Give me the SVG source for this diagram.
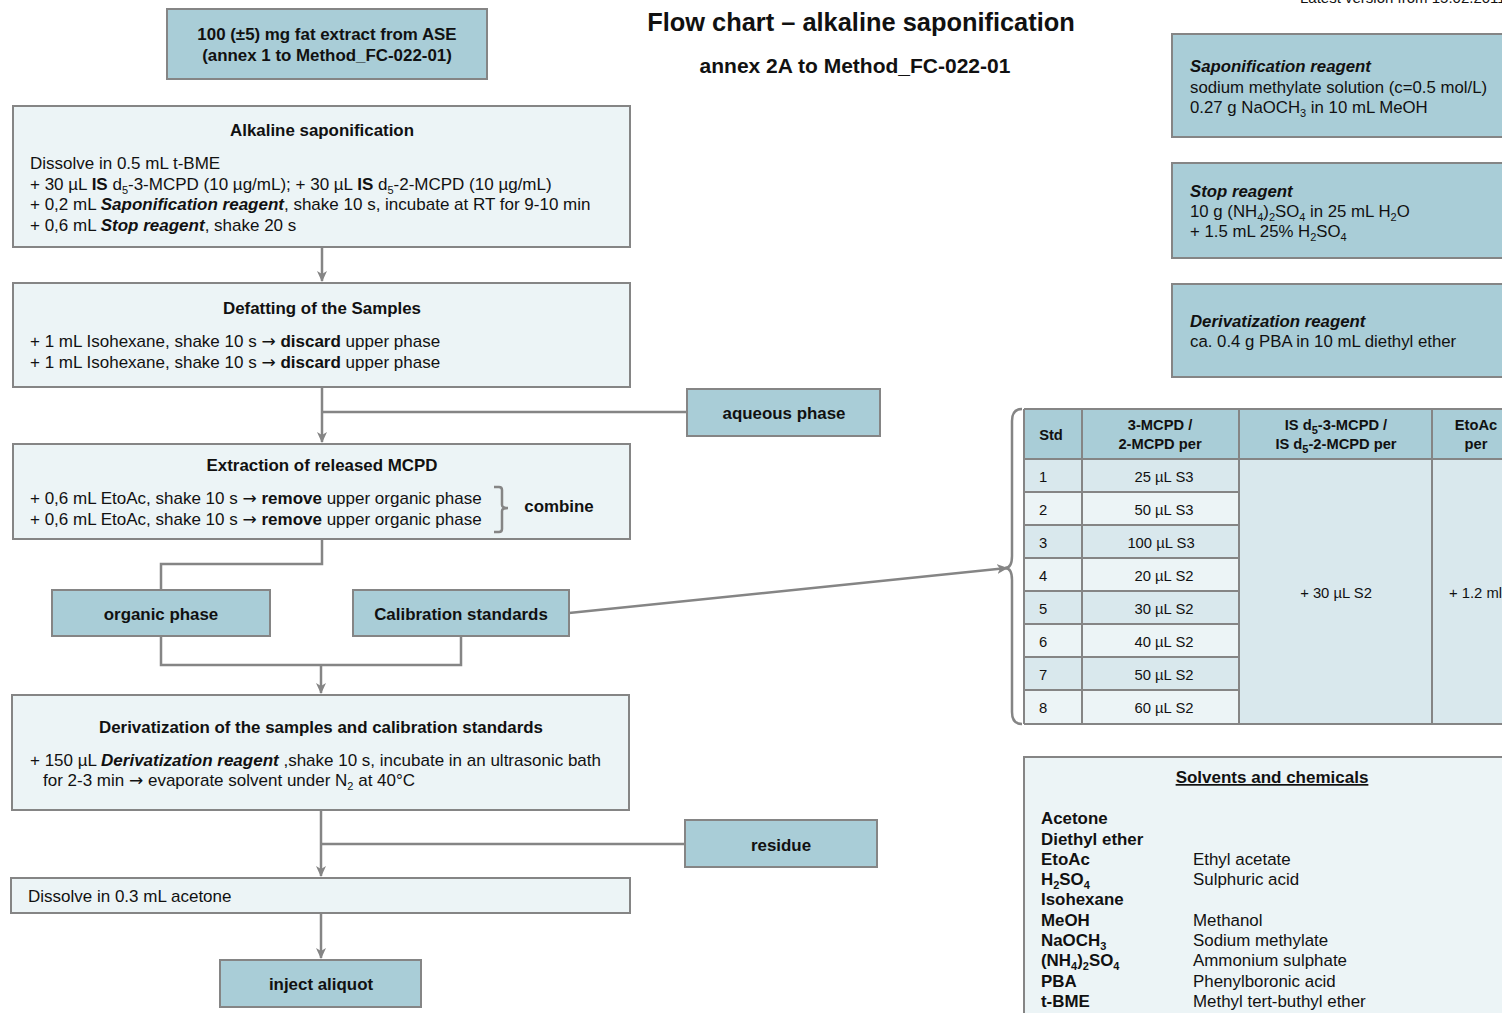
<svg xmlns="http://www.w3.org/2000/svg" width="1502" height="1013" viewBox="0 0 1502 1013">
<defs>
<style>
text{font-family:"Liberation Sans",Arial,sans-serif;fill:#111;}
.dark{fill:#a9cdd7;stroke:#858585;stroke-width:2;}
.light{fill:#ecf4f6;stroke:#858585;stroke-width:2;}
.con{fill:none;stroke:#858585;stroke-width:2.5;}
.t{font-size:16.9px;font-weight:bold;text-anchor:middle;}
.b{font-size:17px;}
.bi{font-weight:bold;font-style:italic;}
.bo{font-weight:bold;}
.ar{font-family:"DejaVu Sans",sans-serif;font-size:17px;}
.r{font-size:16.8px;}
.th{font-size:14.7px;font-weight:bold;text-anchor:middle;}
.td{font-size:14.8px;}
.sub{font-size:11px;}
.grid{stroke:#858585;stroke-width:2;fill:none;}
</style>
<marker id="arr" markerWidth="12" markerHeight="10" refX="10" refY="5" orient="auto" markerUnits="userSpaceOnUse">
<path d="M0,0 L11,5 L0,10 L3,5 Z" fill="#858585"/>
</marker>
</defs>
<rect width="1502" height="1013" fill="#ffffff"/>

<text x="1300" y="3" style="font-size:15px">Latest version from 15.02.2011</text>
<text x="861" y="31" style="font-size:25.4px;font-weight:bold;text-anchor:middle">Flow chart – alkaline saponification</text>
<text x="855" y="73" style="font-size:21px;font-weight:bold;text-anchor:middle">annex 2A to Method_FC-022-01</text>

<g id="connectors">
<line class="con" x1="322" y1="247" x2="322" y2="281" marker-end="url(#arr)"/>
<line class="con" x1="322" y1="387" x2="322" y2="442" marker-end="url(#arr)"/>
<line class="con" x1="322" y1="412" x2="687" y2="412"/>
<polyline class="con" points="322,539 322,564 161,564 161,590"/>
<polyline class="con" points="161,636 161,665 461,665 461,636"/>
<line class="con" x1="321" y1="665" x2="321" y2="693" marker-end="url(#arr)"/>
<line class="con" x1="569" y1="613" x2="1007" y2="568" marker-end="url(#arr)"/>
<line class="con" x1="321" y1="810" x2="321" y2="876" marker-end="url(#arr)"/>
<line class="con" x1="321" y1="844" x2="685" y2="844"/>
<line class="con" x1="321" y1="913" x2="321" y2="958" marker-end="url(#arr)"/>
<path class="con" d="M1022,409 Q1012,409 1012,421 L1012,556 Q1012,568 1005,568 Q1012,568 1012,580 L1012,712 Q1012,724 1022,724"/>
</g>

<g id="n-start">
<rect class="dark" x="167" y="9" width="320" height="70"/>
<text class="t" x="327" y="40">100 (±5) mg fat extract from ASE</text>
<text class="t" x="327" y="61">(annex 1 to Method_FC-022-01)</text>
</g>

<g id="n-saponification">
<rect class="light" x="13" y="106" width="617" height="141"/>
<text class="t" x="322" y="136">Alkaline saponification</text>
<text class="b" x="30" y="169">Dissolve in 0.5 mL t-BME</text>
<text class="b" x="30" y="190">+ 30 µL <tspan class="bo">IS</tspan> d<tspan class="sub" dy="4">5</tspan><tspan dy="-4">-3-MCPD (10 µg/mL); + 30 µL </tspan><tspan class="bo">IS</tspan> d<tspan class="sub" dy="4">5</tspan><tspan dy="-4">-2-MCPD (10 µg/mL)</tspan></text>
<text class="b" x="30" y="210">+ 0,2 mL <tspan class="bi">Saponification reagent</tspan>, shake 10 s, incubate at RT for 9-10 min</text>
<text class="b" x="30" y="231">+ 0,6 mL <tspan class="bi">Stop reagent</tspan>, shake 20 s</text>
</g>

<g id="n-defatting">
<rect class="light" x="13" y="283" width="617" height="104"/>
<text class="t" x="322" y="314">Defatting of the Samples</text>
<text class="b" x="30" y="347">+ 1 mL Isohexane, shake 10 s <tspan class="ar">→</tspan> <tspan class="bo">discard</tspan> upper phase</text>
<text class="b" x="30" y="368">+ 1 mL Isohexane, shake 10 s <tspan class="ar">→</tspan> <tspan class="bo">discard</tspan> upper phase</text>
</g>

<g id="n-aqueous">
<rect class="dark" x="687" y="389" width="193" height="47"/>
<text class="t" x="784" y="419">aqueous phase</text>
</g>

<g id="n-extraction">
<rect class="light" x="13" y="444" width="617" height="95"/>
<text class="t" x="322" y="471">Extraction of released MCPD</text>
<text class="b" x="30" y="504">+ 0,6 mL EtoAc, shake 10 s <tspan class="ar">→</tspan> <tspan class="bo">remove</tspan> upper organic phase</text>
<text class="b" x="30" y="525">+ 0,6 mL EtoAc, shake 10 s <tspan class="ar">→</tspan> <tspan class="bo">remove</tspan> upper organic phase</text>
<path class="con" d="M494,487 L499,487 Q502,487 502,490 L502,505 Q502,508 508,508 Q502,508 502,511 L502,529 Q502,532 499,532 L494,532"/>
<text class="t" x="559" y="512">combine</text>
</g>

<g id="n-organic">
<rect class="dark" x="52" y="590" width="218" height="46"/>
<text class="t" x="161" y="620">organic phase</text>
</g>

<g id="n-calibration">
<rect class="dark" x="353" y="590" width="216" height="46"/>
<text class="t" x="461" y="620">Calibration standards</text>
</g>

<g id="n-derivatization">
<rect class="light" x="12" y="695" width="617" height="115"/>
<text class="t" x="321" y="733">Derivatization of the samples and calibration standards</text>
<text class="b" x="30" y="766">+ 150 µL <tspan class="bi">Derivatization reagent</tspan> ,shake 10 s, incubate in an ultrasonic bath</text>
<text class="b" x="43" y="786">for 2-3 min <tspan class="ar">→</tspan> evaporate solvent under N<tspan class="sub" dy="4">2</tspan><tspan dy="-4"> at 40°C</tspan></text>
</g>

<g id="n-residue">
<rect class="dark" x="685" y="820" width="192" height="47"/>
<text class="t" x="781" y="851">residue</text>
</g>

<g id="n-dissolve">
<rect class="light" x="11" y="878" width="619" height="35"/>
<text class="b" x="28" y="902">Dissolve in 0.3 mL acetone</text>
</g>

<g id="n-inject">
<rect class="dark" x="220" y="960" width="201" height="47"/>
<text class="t" x="321" y="990">inject aliquot</text>
</g>

<g id="n-sap-reagent">
<rect class="dark" x="1172" y="34" width="340" height="103"/>
<text class="r" x="1190" y="72"><tspan class="bi">Saponification reagent</tspan></text>
<text class="r" x="1190" y="93">sodium methylate solution (c=0.5 mol/L)</text>
<text class="r" x="1190" y="113">0.27 g NaOCH<tspan class="sub" dy="4">3</tspan><tspan dy="-4"> in 10 mL MeOH</tspan></text>
</g>

<g id="n-stop-reagent">
<rect class="dark" x="1172" y="163" width="340" height="95"/>
<text class="r" x="1190" y="197"><tspan class="bi">Stop reagent</tspan></text>
<text class="r" x="1190" y="217">10 g (NH<tspan class="sub" dy="4">4</tspan><tspan dy="-4">)</tspan><tspan class="sub" dy="4">2</tspan><tspan dy="-4">SO</tspan><tspan class="sub" dy="4">4</tspan><tspan dy="-4"> in 25 mL H</tspan><tspan class="sub" dy="4">2</tspan><tspan dy="-4">O</tspan></text>
<text class="r" x="1190" y="237">+ 1.5 mL 25% H<tspan class="sub" dy="4">2</tspan><tspan dy="-4">SO</tspan><tspan class="sub" dy="4">4</tspan></text>
</g>

<g id="n-deriv-reagent">
<rect class="dark" x="1172" y="284" width="340" height="93"/>
<text class="r" x="1190" y="327"><tspan class="bi">Derivatization reagent</tspan></text>
<text class="r" x="1190" y="347">ca. 0.4 g PBA in 10 mL diethyl ether</text>
</g>

<g id="n-table">
<rect x="1024" y="409" width="490" height="50" fill="#a9cdd7"/>
<rect x="1024" y="459" width="215" height="33" fill="#d9e8ed"/>
<rect x="1024" y="492" width="215" height="33" fill="#ecf4f6"/>
<rect x="1024" y="525" width="215" height="33" fill="#d9e8ed"/>
<rect x="1024" y="558" width="215" height="33" fill="#ecf4f6"/>
<rect x="1024" y="591" width="215" height="33" fill="#d9e8ed"/>
<rect x="1024" y="624" width="215" height="33" fill="#ecf4f6"/>
<rect x="1024" y="657" width="215" height="33" fill="#d9e8ed"/>
<rect x="1024" y="690" width="215" height="34" fill="#ecf4f6"/>
<rect x="1239" y="459" width="275" height="265" fill="#d9e8ed"/>
<path class="grid" d="M1024,409 H1514 M1024,459 H1514 M1024,724 H1514 M1024,409 V724 M1082,409 V724 M1239,409 V724 M1432,409 V724 M1024,492 H1239 M1024,525 H1239 M1024,558 H1239 M1024,591 H1239 M1024,624 H1239 M1024,657 H1239 M1024,690 H1239"/>
<text class="th" x="1051" y="440">Std</text>
<text class="th" x="1160" y="430">3-MCPD /</text>
<text class="th" x="1160" y="449">2-MCPD per</text>
<text class="th" x="1336" y="430">IS d<tspan class="sub" dy="4">5</tspan><tspan dy="-4">-3-MCPD /</tspan></text>
<text class="th" x="1336" y="449">IS  d<tspan class="sub" dy="4">5</tspan><tspan dy="-4">-2-MCPD per</tspan></text>
<text class="th" x="1476" y="430">EtoAc</text>
<text class="th" x="1476" y="449">per</text>
<text class="td" x="1039" y="482">1</text>
<text class="td" x="1039" y="515">2</text>
<text class="td" x="1039" y="548">3</text>
<text class="td" x="1039" y="581">4</text>
<text class="td" x="1039" y="614">5</text>
<text class="td" x="1039" y="647">6</text>
<text class="td" x="1039" y="680">7</text>
<text class="td" x="1039" y="713">8</text>
<g style="text-anchor:middle">
<text class="td" x="1164" y="482">25 µL S3</text>
<text class="td" x="1164" y="515">50 µL S3</text>
<text class="td" x="1161" y="548">100 µL S3</text>
<text class="td" x="1164" y="581">20 µL S2</text>
<text class="td" x="1164" y="614">30 µL S2</text>
<text class="td" x="1164" y="647">40 µL S2</text>
<text class="td" x="1164" y="680">50 µL S2</text>
<text class="td" x="1164" y="713">60 µL S2</text>
<text class="td" x="1336" y="598">+ 30 µL S2</text>
</g>
<text class="td" x="1449" y="598">+ 1.2 ml</text>
</g>

<g id="n-solvents">
<rect class="light" x="1024" y="757" width="490" height="270"/>
<text x="1272" y="783" style="font-size:17px;font-weight:bold;text-anchor:middle;text-decoration:underline">Solvents and chemicals</text>
<g class="r" style="font-weight:bold;font-size:16.9px">
<text x="1041" y="824">Acetone</text>
<text x="1041" y="845">Diethyl ether</text>
<text x="1041" y="865">EtoAc</text>
<text x="1041" y="885">H<tspan class="sub" dy="4">2</tspan><tspan dy="-4">SO</tspan><tspan class="sub" dy="4">4</tspan></text>
<text x="1041" y="905">Isohexane</text>
<text x="1041" y="926">MeOH</text>
<text x="1041" y="946">NaOCH<tspan class="sub" dy="4">3</tspan></text>
<text x="1041" y="966">(NH<tspan class="sub" dy="4">4</tspan><tspan dy="-4">)</tspan><tspan class="sub" dy="4">2</tspan><tspan dy="-4">SO</tspan><tspan class="sub" dy="4">4</tspan></text>
<text x="1041" y="987">PBA</text>
<text x="1041" y="1007">t-BME</text>
</g>
<g class="r" style="font-size:16.9px">
<text x="1193" y="865">Ethyl acetate</text>
<text x="1193" y="885">Sulphuric acid</text>
<text x="1193" y="926">Methanol</text>
<text x="1193" y="946">Sodium methylate</text>
<text x="1193" y="966">Ammonium sulphate</text>
<text x="1193" y="987">Phenylboronic acid</text>
<text x="1193" y="1007">Methyl tert-buthyl ether</text>
</g>
</g>
</svg>
